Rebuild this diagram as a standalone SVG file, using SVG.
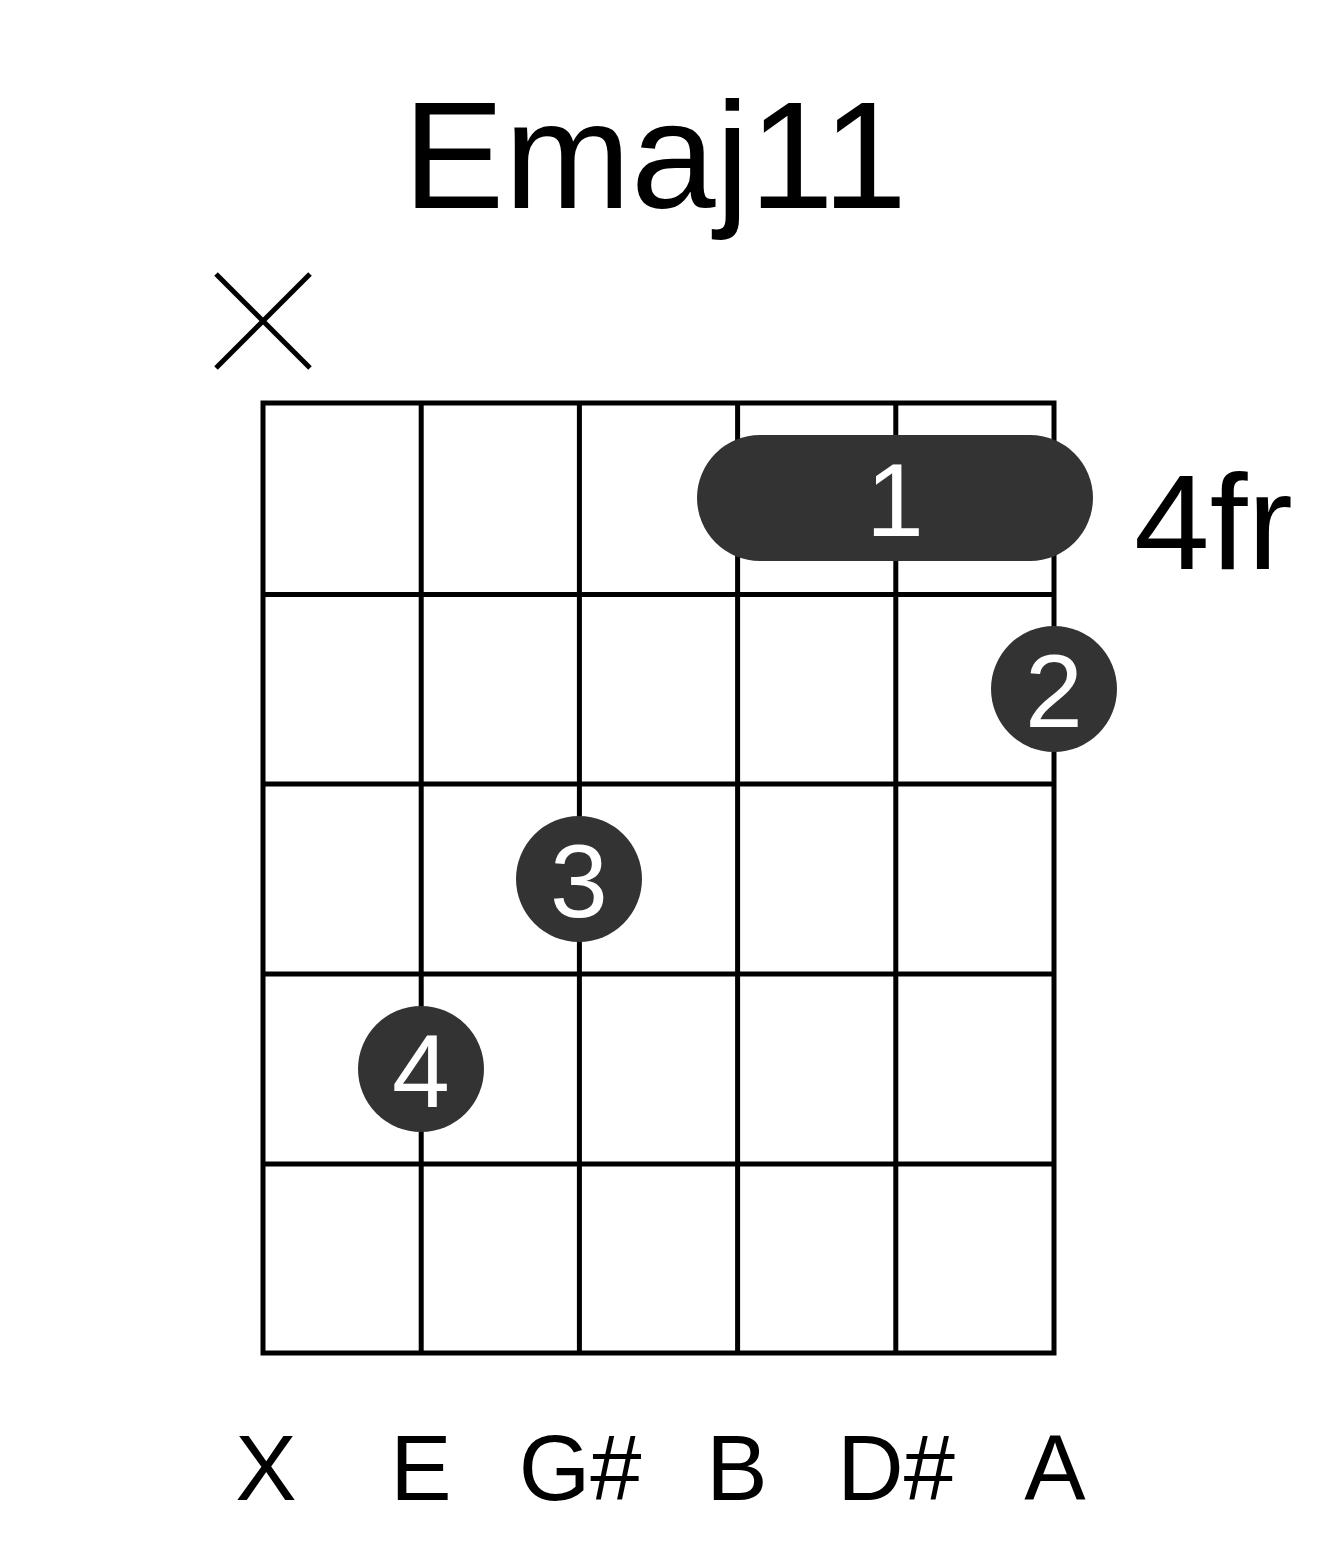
<svg xmlns="http://www.w3.org/2000/svg" width="1317" height="1551" viewBox="0 0 1317 1551">
<style>
.t{font-family:"Liberation Sans",Arial,sans-serif;fill:#000}
.f{font-family:"Liberation Sans",Arial,sans-serif;fill:#fff;text-anchor:middle;font-size:104px}
.g{stroke:#000;stroke-width:5;fill:none}
.dot{fill:#333}
</style>
<rect width="1317" height="1551" fill="#fff"/>
<g id="title"><text class="t" x="655" y="208" font-size="152" text-anchor="middle">Emaj11</text></g>
<g id="mute"><path d="M216 274L310 368M310 274L216 368" stroke="#000" stroke-width="5" fill="none"/></g>
<g id="grid">
<rect class="g" x="263" y="403" width="791" height="950"/>
<path class="g" d="M421.2 403V1353M579.4 403V1353M737.6 403V1353M895.8 403V1353M263 594.5H1054M263 784H1054M263 974H1054M263 1164H1054"/>
</g>
<g id="fret-label"><text class="t" x="1134" y="569" font-size="136">4fr</text></g>
<g id="barre1"><rect class="dot" x="697" y="435" width="396" height="126" rx="63"/><text class="f" x="895" y="536">1</text></g>
<g id="finger2"><circle class="dot" cx="1054" cy="689" r="63"/><text class="f" x="1054" y="727">2</text></g>
<g id="finger3"><circle class="dot" cx="579" cy="879" r="63"/><text class="f" x="579" y="917">3</text></g>
<g id="finger4"><circle class="dot" cx="421" cy="1069" r="63"/><text class="f" x="421" y="1107">4</text></g>
<g id="notes">
<text class="t" x="266" y="1500" font-size="92" text-anchor="middle">X</text>
<text class="t" x="421" y="1500" font-size="92" text-anchor="middle">E</text>
<text class="t" x="580" y="1500" font-size="92" text-anchor="middle">G#</text>
<text class="t" x="737" y="1500" font-size="92" text-anchor="middle">B</text>
<text class="t" x="896" y="1500" font-size="92" text-anchor="middle">D#</text>
<text class="t" x="1055" y="1500" font-size="92" text-anchor="middle">A</text>
</g>
</svg>
